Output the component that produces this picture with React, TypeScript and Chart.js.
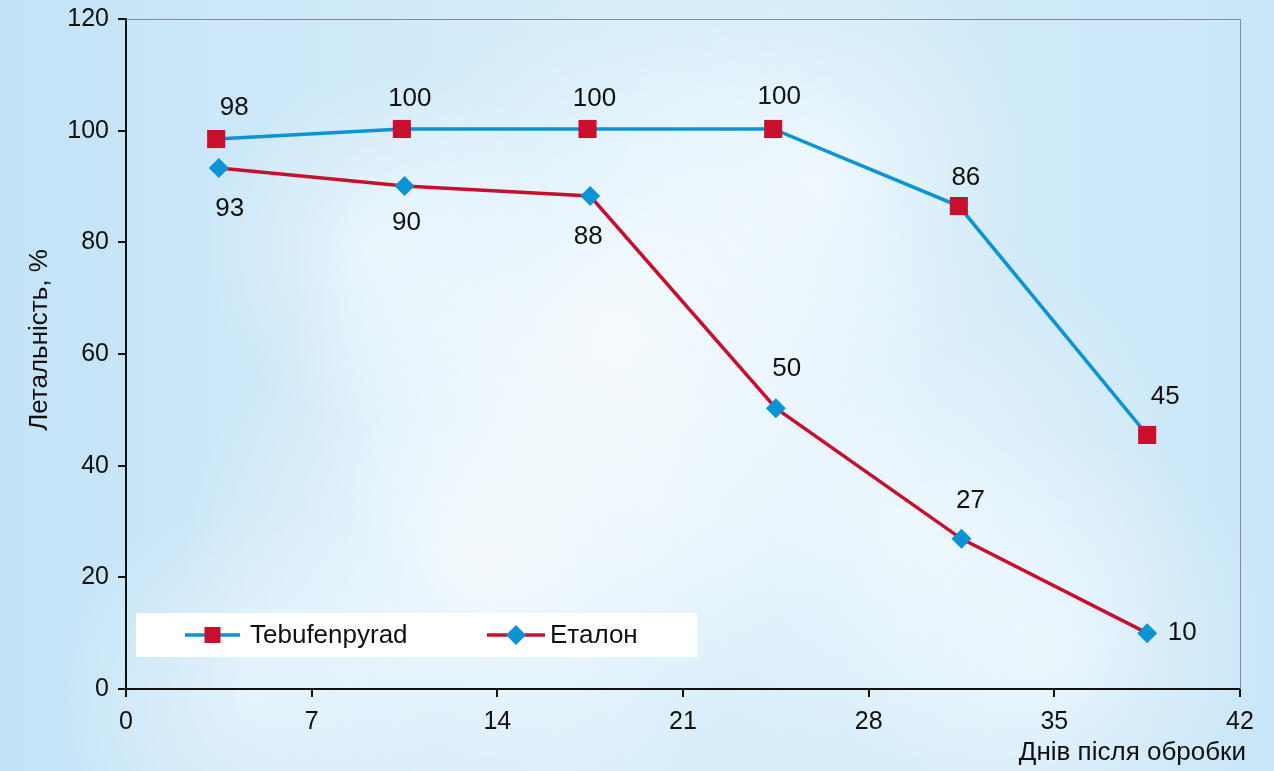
import React, { useEffect, useRef } from "react";
import { Chart, registerables } from "chart.js";

Chart.register(...registerables);

const tebuDays = [3.4, 10.4, 17.4, 24.4, 31.4, 38.5];
const tebuValues = [98.5, 100.3, 100.3, 100.3, 86.5, 45.5];
const tebuLabels = ["98", "100", "100", "100", "86", "45"];

const etalonDays = [3.5, 10.5, 17.5, 24.5, 31.5, 38.5];
const etalonValues = [93.3, 90.1, 88.3, 50.3, 26.9, 10.0];
const etalonLabels = ["93", "90", "88", "50", "27", "10"];

const xTicksStep = 7;
const yTicksStep = 20;
const seriesNames = ["Tebufenpyrad", "Еталон"];
const xTitle = "Днів після обробки";
const yTitle = "Летальність, %";

const BLUE = "#0a93d5";
const RED = "#c8102e";
const FONT = "'Liberation Sans', Arial, Helvetica, sans-serif";

const labelOffsets = [
  [[18, -31], [8, -30], [7, -30], [6, -32], [7, -28], [18, -38]],
  [[11, 41], [2, 37], [-2, 41], [11, -39], [9, -38], [35, 0]],
];

const bgPlugin = {
  id: "skyBg",
  beforeDraw(chart: any) {
    const { ctx, width, height } = chart;
    ctx.save();
    const g = ctx.createLinearGradient(0, 0, width, 0);
    g.addColorStop(0, "#c4e3f7");
    g.addColorStop(0.5, "#d8eefa");
    g.addColorStop(1, "#c9e6f8");
    ctx.fillStyle = g;
    ctx.fillRect(0, 0, width, height);
    const clouds = [
      [620, 330, 330, 0.75],
      [480, 560, 300, 0.7],
      [900, 520, 300, 0.6],
      [380, 250, 180, 0.5],
      [820, 180, 220, 0.55],
      [1050, 650, 220, 0.5],
      [250, 700, 200, 0.45],
    ];
    for (const [cx, cy, r, a] of clouds) {
      const rg = ctx.createRadialGradient(cx, cy, 0, cx, cy, r);
      rg.addColorStop(0, `rgba(255,255,255,${a})`);
      rg.addColorStop(1, "rgba(255,255,255,0)");
      ctx.fillStyle = rg;
      ctx.fillRect(0, 0, width, height);
    }
    ctx.restore();
  },
};

const overlayPlugin = {
  id: "overlay",
  beforeDatasetsDraw(chart: any) {
    const { ctx, chartArea } = chart;
    ctx.save();
    ctx.strokeStyle = "#8a8a8a";
    ctx.lineWidth = 1;
    ctx.beginPath();
    ctx.moveTo(chartArea.left, chartArea.top + 0.5);
    ctx.lineTo(chartArea.right + 0.5, chartArea.top + 0.5);
    ctx.lineTo(chartArea.right + 0.5, chartArea.bottom);
    ctx.stroke();
    ctx.fillStyle = "#ffffff";
    ctx.fillRect(136, 613, 561, 44);
    const items = [
      { x0: 185, x1: 240, tx: 250, line: BLUE, mark: RED, shape: "rect" },
      { x0: 487, x1: 545, tx: 550, line: RED, mark: BLUE, shape: "diamond" },
    ];
    const cy = 635;
    items.forEach((it, i) => {
      ctx.strokeStyle = it.line;
      ctx.lineWidth = 3.5;
      ctx.beginPath();
      ctx.moveTo(it.x0, cy);
      ctx.lineTo(it.x1, cy);
      ctx.stroke();
      ctx.fillStyle = it.mark;
      const mx = (it.x0 + it.x1) / 2;
      if (it.shape === "rect") {
        ctx.fillRect(mx - 8, cy - 8, 16, 16);
      } else {
        ctx.beginPath();
        ctx.moveTo(mx, cy - 10);
        ctx.lineTo(mx + 10, cy);
        ctx.lineTo(mx, cy + 10);
        ctx.lineTo(mx - 10, cy);
        ctx.closePath();
        ctx.fill();
      }
      ctx.fillStyle = "#111";
      ctx.font = `26px ${FONT}`;
      ctx.textAlign = "left";
      ctx.textBaseline = "middle";
      ctx.fillText(seriesNames[i], it.tx, cy + 1);
    });
    ctx.restore();
  },
  afterDraw(chart: any) {
    const { ctx } = chart;
    ctx.save();
    ctx.fillStyle = "#111";
    const allLabels = [tebuLabels, etalonLabels];
    chart.data.datasets.forEach((ds: any, di: number) => {
      const meta = chart.getDatasetMeta(di);
      meta.data.forEach((pt: any, i: number) => {
        const [dx, dy] = labelOffsets[di][i];
        ctx.font = `26px ${FONT}`;
        ctx.textAlign = "center";
        ctx.textBaseline = "middle";
        ctx.fillText(allLabels[di][i], pt.x + dx, pt.y + dy);
      });
    });
    ctx.font = `26px ${FONT}`;
    ctx.textAlign = "right";
    ctx.textBaseline = "middle";
    ctx.fillText(xTitle, 1246, 753);
    ctx.translate(40, 340);
    ctx.rotate(-Math.PI / 2);
    ctx.textAlign = "center";
    ctx.fillText(yTitle, 0, 0);
    ctx.restore();
  },
};

export default function App() {
  const ref = useRef<HTMLCanvasElement>(null);
  useEffect(() => {
    document.body.style.margin = "0";
    const chart = new Chart(ref.current!, {
      type: "line",
      data: {
        datasets: [
          {
            label: seriesNames[0],
            data: tebuDays.map((d, i) => ({ x: d, y: tebuValues[i] })),
            borderColor: BLUE,
            backgroundColor: RED,
            borderWidth: 3.5,
            pointStyle: "rect",
            pointRadius: 12.8,
            pointHoverRadius: 12.8,
            pointBorderWidth: 0,
            pointBackgroundColor: RED,
            tension: 0,
          },
          {
            label: seriesNames[1],
            data: etalonDays.map((d, i) => ({ x: d, y: etalonValues[i] })),
            borderColor: RED,
            backgroundColor: BLUE,
            borderWidth: 3.5,
            pointStyle: "rectRot",
            pointRadius: 10,
            pointHoverRadius: 10,
            pointBorderWidth: 0,
            pointBackgroundColor: BLUE,
            tension: 0,
          },
        ],
      },
      options: {
        animation: false,
        responsive: false,
        maintainAspectRatio: false,
        layout: { padding: { top: 19, right: 34, left: 0, bottom: 0 } },
        plugins: { legend: { display: false }, tooltip: { enabled: false } },
        scales: {
          x: {
            type: "linear",
            min: 0,
            max: 42,
            ticks: {
              stepSize: xTicksStep,
              color: "#111",
              font: { size: 25, family: FONT },
              padding: 10,
              maxRotation: 0,
            },
            grid: {
              drawOnChartArea: false,
              drawTicks: true,
              tickLength: 8,
              color: "#111",
              lineWidth: 2,
            },
            border: { display: true, color: "#111", width: 2 },
            afterFit(scale: any) {
              scale.height = 82;
              scale.paddingLeft = 0;
              scale.paddingRight = 0;
            },
          },
          y: {
            min: 0,
            max: 120,
            ticks: {
              stepSize: yTicksStep,
              color: "#111",
              font: { size: 25, family: FONT },
              padding: 9,
            },
            grid: {
              drawOnChartArea: false,
              drawTicks: true,
              tickLength: 8,
              color: "#111",
              lineWidth: 2,
            },
            border: { display: true, color: "#111", width: 2 },
            afterFit(scale: any) {
              scale.width = 126;
              scale.paddingTop = 0;
              scale.paddingBottom = 0;
            },
          },
        },
      },
      plugins: [bgPlugin, overlayPlugin],
    } as any);
    return () => chart.destroy();
  }, []);
  return (
    <div style={{ width: 1274, height: 771 }}>
      <canvas ref={ref} width={1274} height={771} style={{ display: "block" }} />
    </div>
  );
}
